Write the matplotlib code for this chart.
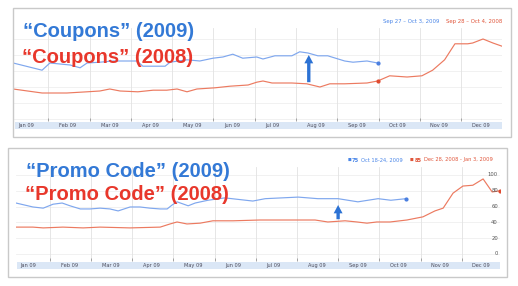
import matplotlib
matplotlib.use("Agg")
import matplotlib.pyplot as plt
from matplotlib.patches import Rectangle

# Month positions (0 = Jan 1) and search volume
months = ["Jan 09", "Feb 09", "Mar 09", "Apr 09", "May 09", "Jun 09",
          "Jul 09", "Aug 09", "Sep 09", "Oct 09", "Nov 09", "Dec 09"]

# "Coupons" panel
coupons_2009_x = [0.15, 0.85, 1.04, 1.53, 1.77, 1.94, 2.25, 2.57, 2.9, 3.15, 3.29, 3.83,
                  3.95, 4.36, 4.67, 4.99, 5.23, 5.47, 5.71, 6.05, 6.2, 6.49, 6.9, 7.09,
                  7.29, 7.53, 7.77, 8.18, 8.38, 8.72, 8.98]
coupons_2009_y = [70, 61, 70, 67.5, 64, 70, 71, 72.5, 72.5, 72.5, 66, 66,
                  71, 74, 72.5, 76, 77.5, 81, 76, 77.5, 75, 79, 79, 84,
                  82.5, 79, 79, 72.5, 71, 72.5, 70]
coupons_2008_x = [0.15, 0.85, 1.45, 1.94, 2.25, 2.49, 2.74, 3.17, 3.54, 3.87, 4.12, 4.36,
                  4.6, 5.04, 5.4, 5.84, 6.05, 6.2, 6.42, 6.9, 7.26, 7.58, 7.82, 8.18,
                  8.72, 8.98, 9.27, 9.69, 10.05, 10.31, 10.6, 10.85, 11.16, 11.28, 11.53,
                  11.77, 11.99]
coupons_2008_y = [37.5, 32.5, 32.5, 34, 35, 37.5, 35, 34, 36, 36, 37.5, 34,
                  37.5, 39, 41, 42.5, 46, 47.5, 45, 45, 44, 40, 44, 44,
                  45, 47.5, 54, 52.5, 54, 61, 74, 94, 94, 95, 100,
                  95, 91]

# "Promo Code" panel
promo_2009_x = [0.18, 0.59, 0.84, 1.08, 1.3, 1.49, 1.74, 1.98, 2.22, 2.46, 2.66, 2.95,
                3.19, 3.43, 3.68, 3.85, 3.97, 4.09, 4.36, 4.53, 4.84, 5.25, 5.93, 6.23,
                7.03, 7.51, 8.0, 8.48, 8.97, 9.28, 9.65]
promo_2009_y = [64.5, 59.5, 58, 63, 64.5, 61, 57, 57, 58, 57, 54.5, 59.5,
                59.5, 58, 57, 57, 62, 66, 61, 64.5, 68, 71, 67, 70,
                72, 70, 70, 66, 70, 68, 70]
promo_2008_x = [0.18, 0.59, 0.84, 1.32, 1.81, 2.22, 2.95, 3.68, 3.92, 4.09, 4.33, 4.65,
                4.96, 5.45, 6.1, 7.03, 7.44, 7.75, 8.17, 8.46, 8.7, 8.94, 9.26, 9.67,
                10.06, 10.35, 10.55, 10.79, 11.03, 11.27, 11.52, 11.74, 11.93]
promo_2008_y = [34, 34, 33, 34, 33, 34, 33, 34, 38, 40.5, 38, 39,
                42, 42, 43, 43, 43, 40.5, 42, 40.5, 39, 40.5, 40.5, 43,
                47, 54.5, 58, 77, 86, 87, 95, 78.5, 80]
y_ticks = [0, 20, 40, 60, 80, 100]

W, H = 518, 286
blue_line = "#7fa7ee"
red_line = "#ec7a60"
blue_text = "#3379d6"
red_text = "#e8372b"

fig = plt.figure(figsize=(W / 100, H / 100), dpi=100)
fig.patch.set_facecolor("white")


def px_axes(l, t, r, b):
    return fig.add_axes([l / W, 1 - b / H, (r - l) / W, (b - t) / H])


def ftext(x, y, s, **kw):
    fig.text(x / W, 1 - y / H, s, **kw)


def panel(box, plot, band, xlim, ylim, x1, y1, x2, y2, mark2, arrow, right_labels):
    fig.add_artist(Rectangle((box[0] / W, 1 - box[3] / H), (box[2] - box[0]) / W,
                             (box[3] - box[1]) / H, transform=fig.transFigure,
                             fill=False, edgecolor="#c9c9c9", lw=1))
    ax = px_axes(*plot)
    ax.set_xlim(xlim)
    ax.set_ylim(ylim)
    for v in y_ticks:
        ax.axhline(v, color="#efefef", lw=0.6, zorder=0)
    for m in range(1, 12):
        ax.axvline(m, color="#e2e2e2", lw=0.6, zorder=0)
    ax.plot(x2, y2, color=red_line, lw=0.85)
    ax.plot(x1, y1, color=blue_line, lw=0.85)
    ax.plot(x1[-1], y1[-1], "o", color="#4a7fe0", ms=2)
    ax.plot(x2[mark2], y2[mark2], "o", color="#e04a2f", ms=2)
    ax.annotate("", xy=(arrow[0], arrow[1]), xytext=(arrow[0], arrow[2]),
                arrowprops=dict(arrowstyle="simple,head_width=0.8,head_length=0.75,tail_width=0.3",
                                mutation_scale=8, color="#2c72d4", lw=0,
                                shrinkA=0, shrinkB=0))
    ax.set_xticks(range(1, 12))
    ax.set_xticklabels([])
    ax.set_yticks([])
    ax.tick_params(axis="x", direction="in", length=2.5, width=0.5, color="#888888")
    for s in ax.spines.values():
        s.set_visible(False)
    if right_labels:
        for v in y_ticks:
            ax.text(xlim[1] - 0.05, v, str(v), ha="right", va="center",
                    fontsize=3.8, color="#555555")
    bx = px_axes(*band)
    bx.set_xlim(xlim)
    bx.set_facecolor("#dbe7f6")
    bx.set_xticks([])
    bx.set_yticks([])
    for s in bx.spines.values():
        s.set_visible(False)
    for i, lab in enumerate(months):
        bx.text(i + 0.25, 0.45, lab, ha="left", va="center", fontsize=3.6,
                color="#4a4a5a", transform=bx.get_xaxis_transform())
    return ax


# Top panel: "Coupons"
panel((13, 8, 511, 137), (14, 28, 502, 121), (15, 122, 502, 129),
      (0.17, 11.99), (-2.5, 113.75),
      coupons_2009_x, coupons_2009_y, coupons_2008_x, coupons_2008_y,
      coupons_2008_x.index(8.98), (7.31, 80, 46), False)

# Bottom panel: "Promo Code"
panel((8, 148, 507, 277), (16, 167, 500, 261), (17, 262, 500, 269),
      (0.18, 11.93), (-8.9, 110.1),
      promo_2009_x, promo_2009_y, promo_2008_x, promo_2008_y,
      -1, (8.0, 62, 44), True)

# Legends
ftext(383, 21, "Sep 27 \u2013 Oct 3, 2009", fontsize=3.9, color="#4a86e8", va="center")
ftext(446, 21, "Sep 28 \u2013 Oct 4, 2008", fontsize=3.9, color="#e0553a", va="center")

ftext(348, 160, "\u25a0", fontsize=2.8, color="#4a86e8", va="center")
ftext(352, 160, "75", fontsize=3.7, color="#4a86e8", va="center", fontweight="bold")
ftext(361, 160, "Oct 18-24, 2009", fontsize=3.7, color="#4a86e8", va="center")
ftext(410, 160, "\u25a0", fontsize=2.8, color="#e0553a", va="center")
ftext(415, 160, "85", fontsize=3.7, color="#e0553a", va="center", fontweight="bold")
ftext(424, 160, "Dec 28, 2008 - Jan 3, 2009", fontsize=3.7, color="#e0553a", va="center")

# Big overlaid titles
big = dict(fontsize=14.5, fontweight="bold", family="Liberation Sans", va="baseline")
ftext(23, 37, "\u201cCoupons\u201d (2009)", color=blue_text, **big)
ftext(22, 63, "\u201cCoupons\u201d (2008)", color=red_text, **big)
ftext(26, 177, "\u201cPromo Code\u201d (2009)", color=blue_text, **big)
ftext(25, 200, "\u201cPromo Code\u201d (2008)", color=red_text, **big)

fig.savefig("out.png", dpi=100)
